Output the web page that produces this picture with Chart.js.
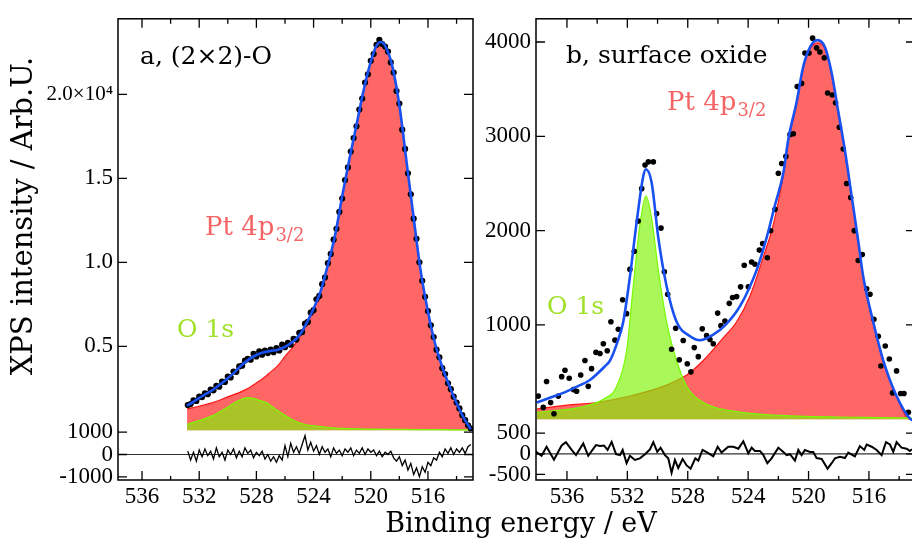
<!DOCTYPE html>
<html><head><meta charset="utf-8">
<script src="https://cdn.jsdelivr.net/npm/chart.js@4.4.0/dist/chart.umd.min.js"></script>
<style>
html,body{margin:0;padding:0;overflow:hidden;background:#fff;width:912px;height:538px}
canvas{position:absolute;left:0;top:0}
</style></head><body>
<canvas id="ca" width="920" height="538"></canvas>
<canvas id="cb" width="920" height="538"></canvas>
<script>
// ---------- axis ticks ----------
const xTicks = [536, 532, 528, 524, 520, 516];
const xMinorTicks = [534, 530, 526, 522, 518, 514];
const aMainTicks = [5000, 10000, 15000, 20000];
const aResTicks = [-1000, 0, 1000];
const bMainTicks = [1000, 2000, 3000, 4000];
const bResTicks = [-500, 0, 500];

// ---------- panel a : (2x2)-O ----------
const aDataE = [532.8,532.6,532.4,532.2,532.0,531.8,531.6,531.4,531.2,531.0,530.8,530.6,530.4,530.2,530.0,529.8,529.6,529.4,529.2,529.0,528.8,528.6,528.4,528.2,528.0,527.8,527.6,527.4,527.2,527.0,526.8,526.6,526.4,526.2,526.0,525.8,525.6,525.4,525.2,525.0,524.8,524.6,524.4,524.2,524.0,523.8,523.6,523.4,523.2,523.0,522.8,522.6,522.4,522.2,522.0,521.8,521.6,521.4,521.2,521.0,520.8,520.6,520.4,520.2,520.0,519.8,519.6,519.4,519.2,519.0,518.8,518.6,518.4,518.2,518.0,517.8,517.6,517.4,517.2,517.0,516.8,516.6,516.4,516.2,516.0,515.8,515.6,515.4,515.2,515.0,514.8,514.6,514.4,514.2,514.0,513.8,513.6,513.4,513.2,513.0];
const aDataV = [1500,1560,1780,1750,2000,1980,2200,2150,2420,2380,2650,2600,2900,2880,3200,3150,3500,3480,3800,3850,4150,4250,4200,4550,4400,4700,4500,4750,4600,4800,4650,4900,4750,5100,4950,5200,5100,5450,5400,5800,5850,6350,6450,7000,7150,7800,8000,8700,9100,9950,10500,11350,12000,13000,13800,14900,15650,16600,17400,18100,19100,19750,20700,21200,22000,22400,22950,23250,23000,22850,22550,21900,21300,20200,19450,17900,16750,15300,14050,12600,11400,10000,8900,7950,7100,6250,5550,4800,4350,3700,3350,2800,2450,2000,1650,1300,900,600,300,100];
const aResV = [150,-250,100,-300,200,-100,250,-50,150,-200,300,-100,100,-250,200,0,250,-150,150,-100,300,50,200,-150,100,-50,150,-200,0,-300,-100,-350,-50,-250,400,-100,500,100,350,50,450,850,200,550,150,400,0,350,100,250,-100,300,50,200,-50,250,100,300,-50,200,50,300,0,250,100,200,-50,150,-100,100,0,150,-150,-300,-100,-500,-250,-700,-400,-900,-600,-1000,-550,-800,-350,-500,-150,-250,100,-100,250,50,300,0,250,100,300,50,350,450];
const aFitE = [532.85,532.5,532.0,531.5,531.0,530.5,530.0,529.5,529.0,528.5,528.0,527.5,527.0,526.5,526.0,525.5,525.0,524.5,524.0,523.5,523.0,522.5,522.0,521.5,521.0,520.5,520.0,519.6,519.3,519.0,518.5,518.0,517.5,517.0,516.5,516.0,515.5,515.0,514.5,514.0,513.5,513.0];
const aFitV = [1465,1650,1930,2180,2430,2760,3100,3480,3900,4240,4480,4640,4730,4800,4970,5240,5650,6370,7250,8300,9850,11600,13930,16120,18180,20240,21950,22900,23120,22900,21700,19350,16000,12640,9430,7060,5150,3770,2630,1620,740,60];
const aPtE = [532.85,532.0,531.0,530.0,529.0,528.5,528.0,527.5,527.0,526.5,526.0,525.5,525.0,524.5,524.0,523.5,523.0,522.5,522.0,521.5,521.0,520.5,520.0,519.6,519.3,519.0,518.5,518.0,517.5,517.0,516.5,516.0,515.5,515.0,514.5,514.0,513.5,513.0];
const aPtV = [1270,1430,1660,1990,2320,2530,2820,3110,3480,3850,4400,4900,5500,6250,7180,8240,9800,11550,13880,16080,18150,20200,21900,22850,23070,22850,21650,19300,15960,12600,9400,7030,5130,3750,2610,1600,730,50];
const aOE = [532.85,532.0,531.0,530.5,530.0,529.5,529.0,528.6,528.2,527.8,527.3,527.0,526.5,526.0,525.5,525.0,524.5,524.0,523.0,522.0,520.0,518.0,516.0,514.0,513.0];
const aOV = [346,580,890,1140,1390,1650,1860,1950,1900,1780,1650,1480,1170,900,640,450,330,270,180,115,70,50,40,30,30];

// ---------- panel b : surface oxide ----------
const bDataE = [537.90,537.57,537.35,537.08,536.86,536.57,536.35,536.13,535.85,535.58,535.36,535.09,534.81,534.59,534.37,534.08,533.81,533.59,533.33,533.09,532.82,532.60,532.31,532.05,531.83,531.54,531.28,531.05,530.83,530.61,530.28,530.06,529.77,529.55,529.33,529.07,528.80,528.56,528.30,528.03,527.79,527.57,527.30,527.04,526.75,526.53,526.31,526.02,525.80,525.54,525.25,525.03,524.76,524.50,524.26,523.99,523.77,523.55,523.26,523.04,522.73,522.51,522.22,522.00,521.78,521.50,521.23,521.01,520.75,520.46,520.24,519.97,519.73,519.47,519.25,518.96,518.74,518.43,518.21,517.96,517.70,517.48,517.21,516.97,516.71,516.44,516.15,515.93,515.67,515.38,515.21,514.92,514.65,514.43,514.17,513.90,513.68,513.39];
const bDataV = [246,126,400,178,58,246,452,520,435,315,298,469,623,349,537,709,698,801,726,1034,839,955,1267,1120,1589,1781,2103,2445,2695,2729,2729,2181,2027,1565,1325,743,966,630,835,589,503,760,664,959,887,846,801,1126,993,1041,1229,1291,1301,1404,1633,1404,1668,1644,1794,1863,1712,1999,2226,2609,2712,2787,3020,3027,3527,3561,3883,3883,4041,3938,3894,3832,3459,3438,3356,3096,2866,2500,2352,2000,1684,1746,1383,1325,1061,880,565,777,640,280,513,274,274,75];
const bResE = [538.45,538.12,537.68,537.35,536.86,536.35,536.07,535.69,535.40,534.92,534.59,534.08,533.81,533.55,533.31,533.04,532.75,532.49,532.31,532.05,531.83,531.50,531.17,530.83,530.50,530.28,530.02,529.80,529.51,529.29,529.07,528.85,528.63,528.34,528.07,527.81,527.50,527.30,527.02,526.64,526.31,526.02,525.76,525.32,524.98,524.65,524.32,523.99,523.77,523.55,523.22,523.00,522.73,522.45,522.00,521.67,521.45,521.23,520.90,520.68,520.46,520.24,519.91,519.69,519.47,519.13,518.74,518.47,518.25,517.92,517.59,517.37,516.93,516.60,516.31,516.15,515.82,515.49,515.16,514.87,514.61,514.39,514.17,513.84,513.51,513.29,513.15];
const bResV = [149,70,-47,172,-141,203,282,94,-31,250,-47,211,188,203,94,289,-8,-31,94,-227,-47,-148,-109,-8,110,282,47,149,-31,-109,-461,-148,-344,-125,-281,-360,-109,-164,94,16,-62,172,31,172,172,125,305,16,149,70,70,-23,-227,-109,149,47,-31,-8,-164,94,-31,94,47,47,-102,-125,-360,-227,-109,-70,-102,31,-62,188,94,227,172,94,-31,282,227,47,282,149,125,70,110];
const bFitE = [538.0,537.0,536.25,535.5,534.48,533.5,533.15,532.7,532.27,531.83,531.38,530.95,530.77,530.39,529.95,529.40,528.74,527.85,527.19,526.31,525.5,524.5,523.44,522.78,522.23,521.67,521.34,520.79,520.35,519.90,519.42,518.91,518.47,518.03,517.59,517.15,516.71,516.38,515.72,515.05,514.17,513.28,512.9];
const bFitV = [178,236,280,335,417,560,623,800,1034,1513,2096,2575,2651,2507,1924,1411,1034,880,838,897,1000,1210,1582,1924,2267,2610,2970,3363,3740,3945,4020,3945,3671,3260,2849,2370,1890,1513,1034,623,247,6,-20];
const bPtE = [538.0,536.0,534.03,531.83,529.62,528.07,526.97,525.65,524.76,523.88,523.0,522.34,521.67,521.34,520.79,520.35,519.90,519.42,518.91,518.47,518.03,517.59,517.15,516.71,516.38,515.72,515.05,514.17,513.28,512.9];
const bPtV = [109,150,178,247,349,469,623,863,1034,1308,1719,2061,2590,2950,3340,3720,3925,3990,3925,3650,3245,2835,2355,1875,1500,1020,610,238,0,0];
const bOE = [538.0,535.14,533.6,532.71,532.05,531.61,531.17,530.77,530.39,529.95,529.40,528.74,528.07,526.97,525.21,521.89,516.38,512.9];
const bOV = [75,126,212,349,725,1411,2061,2370,2130,1582,1034,623,349,178,92,41,21,13];

// ---------- styles ----------
const RED_FILL = 'rgb(255,102,102)', RED_LINE = 'rgb(255,20,20)';
const GREEN_FILL = 'rgba(126,243,5,0.66)', GREEN_LINE = 'rgb(120,250,0)';
const BLUE = 'rgb(25,80,240)';
const TICK_FONT = '"Liberation Serif", serif';
const TEXT_FONT = '"DejaVu Serif", serif';
const PT_COLOR = 'rgb(245,100,100)', O_COLOR = 'rgb(160,225,40)';
Chart.defaults.font.family = TICK_FONT;
Chart.defaults.font.size = 23;
Chart.defaults.color = '#000';

const zip = (xs, ys) => xs.map((x, i) => ({x, y: ys[i]}));

function drawText(ctx, t) {
  ctx.save();
  ctx.fillStyle = t.color || '#000';
  ctx.textBaseline = 'alphabetic';
  ctx.font = t.size + 'px ' + TEXT_FONT;
  if (t.rot) {
    ctx.translate(t.x, t.y);
    ctx.rotate(-Math.PI / 2);
    ctx.textAlign = 'center';
    ctx.fillText(t.s, 0, 0);
  } else {
    let x = t.x;
    if (t.align === 'center') x -= ctx.measureText(t.s).width / 2;
    ctx.textAlign = 'left';
    ctx.fillText(t.s, x, t.y);
    if (t.sub) {
      const w = ctx.measureText(t.s).width;
      ctx.font = t.subSize + 'px ' + TEXT_FONT;
      ctx.fillText(t.sub, x + w + 1, t.y + t.subDy);
    }
  }
  ctx.restore();
}

const framePlugin = {
  id: 'frame',
  beforeDatasetsDraw(chart) {
    const ctx = chart.ctx, a = chart.chartArea, yr = chart.scales.yr;
    const y0 = yr.getPixelForValue(0);
    ctx.save(); ctx.strokeStyle = '#333'; ctx.lineWidth = 1.2;
    ctx.beginPath(); ctx.moveTo(a.left, y0); ctx.lineTo(a.right, y0); ctx.stroke();
    ctx.restore();
  },
  afterDraw(chart, args, o) {
    const ctx = chart.ctx, a = chart.chartArea, xs = chart.scales.x;
    ctx.save();
    ctx.strokeStyle = '#000'; ctx.lineWidth = 1.3;
    ctx.beginPath();
    xs.ticks.forEach(t => {
      const p = xs.getPixelForValue(t.value);
      ctx.moveTo(p, a.top); ctx.lineTo(p, a.top + 9);
      ctx.moveTo(p, a.bottom); ctx.lineTo(p, a.bottom - 9);
    });
    xMinorTicks.forEach(v => {
      const p = xs.getPixelForValue(v);
      ctx.moveTo(p, a.top); ctx.lineTo(p, a.top + 5);
      ctx.moveTo(p, a.bottom); ctx.lineTo(p, a.bottom - 4);
    });
    ['y', 'yr'].forEach(id => {
      const s = chart.scales[id];
      s.ticks.forEach(t => {
        const p = s.getPixelForValue(t.value);
        ctx.moveTo(a.left, p); ctx.lineTo(a.left + 9, p);
        ctx.moveTo(a.right, p); ctx.lineTo(a.right - 9, p);
      });
    });
    ctx.stroke();
    ctx.lineWidth = 1.5;
    ctx.strokeRect(a.left, a.top, a.right - a.left, a.bottom - a.top);
    ctx.restore();
    (o.texts || []).forEach(t => drawText(ctx, t));
  }
};

function yAxis(stackWeight, min, max, ticks, width, label, bigVal) {
  return {
    type: 'linear', position: 'left', stack: 'v', stackWeight, min, max,
    grid: {display: false, drawTicks: false}, border: {display: false},
    afterBuildTicks: s => { s.ticks = ticks.map(v => ({value: v})); },
    afterFit: s => { s.width = width; },
    ticks: {color: '#000', padding: 5, autoSkip: false, callback: label,
            font: c => ({family: TICK_FONT, size: (c.tick && c.tick.value === bigVal) ? 21 : 23})}
  };
}

function xAxis(min, max) {
  return {
    type: 'linear', position: 'bottom', reverse: true, min, max,
    grid: {display: false, drawTicks: false}, border: {display: false},
    afterBuildTicks: s => { s.ticks = xTicks.map(v => ({value: v})); },
    afterFit: s => { s.height = 58; },
    ticks: {color: '#000', padding: 3, maxRotation: 0, autoSkip: false,
            font: c => ({family: TICK_FONT, size: 23}), callback: v => String(v)}
  };
}

function datasets(dataE, dataV, resE, resV, fitE, fitV, ptE, ptV, oE, oV, resWidth, dotR) {
  return [
    {data: zip(resE, resV), yAxisID: 'yr', borderColor: '#000', borderWidth: resWidth, pointRadius: 0, tension: 0, order: 0},
    {data: zip(fitE, fitV), yAxisID: 'y', borderColor: BLUE, borderWidth: 2.6, pointRadius: 0, cubicInterpolationMode: 'monotone', order: 1},
    {data: zip(dataE, dataV), yAxisID: 'y', showLine: false, pointRadius: dotR, pointBackgroundColor: '#000', pointBorderWidth: 0, order: 2},
    {data: zip(oE, oV), yAxisID: 'y', borderColor: GREEN_LINE, borderWidth: 1.2, backgroundColor: GREEN_FILL, fill: 'origin', pointRadius: 0, cubicInterpolationMode: 'monotone', order: 3},
    {data: zip(ptE, ptV), yAxisID: 'y', borderColor: RED_LINE, borderWidth: 1.2, backgroundColor: RED_FILL, fill: 'origin', pointRadius: 0, cubicInterpolationMode: 'monotone', order: 4}
  ];
}

const common = {
  responsive: false, animation: false, devicePixelRatio: 1, events: [],
  plugins: {legend: {display: false}, tooltip: {enabled: false}}
};

new Chart(document.getElementById('ca'), {
  type: 'line',
  data: {datasets: datasets(aDataE, aDataV, aDataE, aResV, aFitE, aFitV, aPtE, aPtV, aOE, aOV, 1.3, 3.1)},
  plugins: [framePlugin],
  options: Object.assign({}, common, {
    layout: {padding: {left: 0, top: 4, right: 447, bottom: 0}},
    plugins: Object.assign({}, common.plugins, {frame: {texts: [
      {s: 'a, (2×2)-O', x: 140, y: 64, size: 25},
      {s: 'Pt 4p', sub: '3/2', x: 205, y: 235, size: 26, subSize: 18, subDy: 6, color: PT_COLOR},
      {s: 'O 1s', x: 177, y: 337, size: 25, color: O_COLOR},
      {s: 'XPS intensity / Arb.U.', rot: true, x: 32, y: 216, size: 29}
    ]}}),
    scales: {
      x: xAxis(512.85, 537.68),
      yr: yAxis(50, -1143, 1030, aResTicks, 118, v => String(v)),
      y: yAxis(426, -75, 24500, aMainTicks, 118,
        v => v === 20000 ? '2.0×10⁴' : (v / 10000).toFixed(1), 20000)
    }
  })
});

new Chart(document.getElementById('cb'), {
  type: 'line',
  data: {datasets: datasets(bDataE, bDataV, bResE, bResV, bFitE, bFitV, bPtE, bPtV, bOE, bOV, 2, 2.8)},
  plugins: [framePlugin],
  options: Object.assign({}, common, {
    layout: {padding: {left: 480, top: 4, right: 5, bottom: 0}},
    plugins: Object.assign({}, common.plugins, {frame: {texts: [
      {s: 'b, surface oxide', x: 566, y: 63, size: 25},
      {s: 'Pt 4p', sub: '3/2', x: 667, y: 110, size: 26, subSize: 18, subDy: 6, color: PT_COLOR},
      {s: 'O 1s', x: 547, y: 314, size: 25, color: O_COLOR},
      {s: 'Binding energy / eV', x: 521, y: 532, size: 27, align: 'center'}
    ]}}),
    scales: {
      x: xAxis(512.95, 538.05),
      yr: yAxis(50, -634, 540, bResTicks, 56, v => String(v)),
      y: yAxis(426, -130, 4246, bMainTicks, 56, v => String(v))
    }
  })
});
</script>
</body></html>
